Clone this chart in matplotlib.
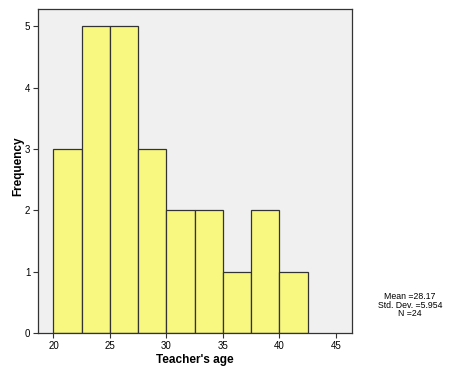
import matplotlib
matplotlib.use("Agg")
import matplotlib.pyplot as plt

bin_edges = [20, 22.5, 25, 27.5, 30, 32.5, 35, 37.5, 40, 42.5]
frequencies = [3, 5, 5, 3, 2, 2, 1, 2, 1]
x_ticks = [20, 25, 30, 35, 40, 45]
y_ticks = [0, 1, 2, 3, 4, 5]
stats_text = "Mean =28.17\nStd. Dev. =5.954\nN =24"

plt.rcParams['font.family'] = ['Liberation Sans', 'DejaVu Sans']

fig = plt.figure(figsize=(4.68, 3.74), dpi=100)
W, H = 468, 374
left, right, top, bottom = 38, 352, 9, 333
ax = fig.add_axes([left / W, 1 - bottom / H, (right - left) / W, (bottom - top) / H])
ax.set_facecolor('#F0F0F0')

widths = [bin_edges[i + 1] - bin_edges[i] for i in range(len(frequencies))]
ax.bar(bin_edges[:-1], frequencies, width=widths, align='edge',
       color='#F8F880', edgecolor='#333333', linewidth=0.9)

ax.set_xlim(18.63, 46.44)
ax.set_ylim(0, 5.28)
ax.set_xticks(x_ticks)
ax.set_yticks(y_ticks)
ax.tick_params(axis='both', labelsize=7, length=3.6, width=0.8, color='#333333', pad=2)
for s in ax.spines.values():
    s.set_color('#333333')
    s.set_linewidth(0.9)

ax.set_xlabel("Teacher's age", fontsize=8.5, fontweight='bold')
ax.set_ylabel("Frequency", fontsize=8.5, fontweight='bold')
ax.xaxis.set_label_coords((195 - left) / (right - left), -(354 - bottom) / (bottom - top))
ax.yaxis.set_label_coords(-(left - 24.5) / (right - left), (bottom - 166) / (bottom - top))

fig.text(410 / W, 1 - 305 / H, stats_text, ha='center', va='center',
         fontsize=6.3, linespacing=0.95)

fig.savefig("out.png", dpi=100)
